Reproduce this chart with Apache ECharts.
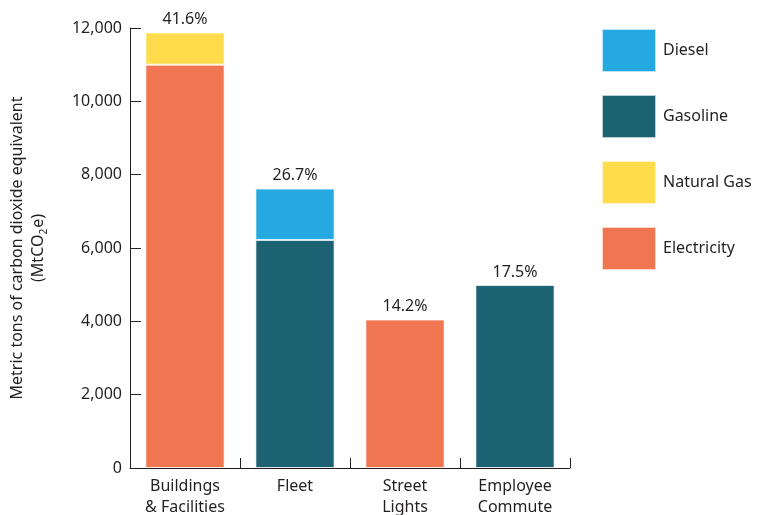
<!DOCTYPE html>
<html><head><meta charset="utf-8">
<script src="https://cdn.jsdelivr.net/npm/echarts@6/dist/echarts.min.js"></script>
<style>html,body{margin:0;padding:0;background:#fff}#c{width:769px;height:515px}</style>
</head><body><div id="c"></div>
<script>
const categories = ['Buildings\n& Facilities', 'Fleet', 'Street\nLights', 'Employee\nCommute'];
const electricity = [11000, null, 4050, null];
const naturalGas = [880, null, null, null];
const gasoline = [null, 6220, null, 4990];
const diesel = [null, 1400, null, null];
const percentLabels = ['41.6%', '26.7%', '14.2%', '17.5%'];
const yTicks = [0, 2000, 4000, 6000, 8000, 10000, 12000];

const FONT = '"Noto Sans", "Open Sans", sans-serif';
const TXT = '#231f20';
const FS = 16;
const colors = {Diesel:'#25a9e0', Gasoline:'#1d6272', 'Natural Gas':'#fedc4b', Electricity:'#ef7651'};

function isTop(seriesIdx, dataIdx, all) {
  for (let s = seriesIdx + 1; s < all.length; s++) if (all[s][dataIdx] != null) return false;
  return all[seriesIdx][dataIdx] != null;
}
const stackOrder = [electricity, naturalGas, gasoline, diesel];
const names = ['Electricity', 'Natural Gas', 'Gasoline', 'Diesel'];

const series = stackOrder.map((arr, si) => ({
  name: names[si],
  type: 'bar',
  stack: 'total',
  barWidth: '72%',
  itemStyle: {color: colors[names[si]], borderColor: 'rgba(255,255,255,0.7)', borderWidth: 1},
  data: arr.map((v, di) => ({
    value: v == null ? '-' : v,
    label: {
      show: isTop(si, di, stackOrder),
      position: 'top', distance: 5,
      formatter: percentLabels[di],
      color: TXT, fontSize: FS, fontFamily: FONT
    }
  }))
}));

const chart = echarts.init(document.getElementById('c'));
chart.setOption({
  animation: false,
  grid: {left: 130, right: 199, top: 28, bottom: 47, containLabel: false, outerBoundsMode: 'none'},
  legend: {
    data: ['Diesel', 'Gasoline', 'Natural Gas', 'Electricity'],
    orient: 'vertical', left: 601, top: 28, padding: 0,
    itemWidth: 54, itemHeight: 43, itemGap: 21,
    icon: 'rect',
    textStyle: {color: TXT, fontSize: FS, fontFamily: FONT, padding: [0,0,0,2]},
    selectedMode: false
  },
  xAxis: {
    type: 'category', data: categories,
    axisLine: {lineStyle: {color: '#231f20', width: 1}},
    axisTick: {show: true, inside: true, length: 10, lineStyle: {color: '#231f20'}},
    axisLabel: {color: TXT, fontSize: FS, fontFamily: FONT, lineHeight: 21, margin: 8}
  },
  yAxis: {
    type: 'value', min: 0, max: 12000, interval: 2000,
    splitLine: {show: false},
    axisLine: {show: true, lineStyle: {color: '#231f20', width: 1}},
    axisTick: {show: true, inside: true, length: 11, lineStyle: {color: '#231f20'}},
    axisLabel: {color: TXT, fontSize: FS, fontFamily: FONT, margin: 8,
      formatter: v => yTicks.includes(v) ? v.toLocaleString('en-US') : ''},
    name: '{a|Metric tons of carbon dioxide equivalent}\n{a|(MtCO}{s|2}{a|e)}',
    nameLocation: 'middle', nameRotate: 90, nameGap: 81,
    nameTextStyle: {
      color: TXT, fontFamily: FONT, fontSize: FS, lineHeight: 21,
      rich: {
        a: {fontSize: FS, fontFamily: FONT, color: TXT, lineHeight: 21},
        s: {fontSize: 10, fontFamily: FONT, color: TXT, verticalAlign: 'bottom', padding: [6,1,0,0], lineHeight: 21}
      }
    }
  },
  series: series
});
</script></body></html>
